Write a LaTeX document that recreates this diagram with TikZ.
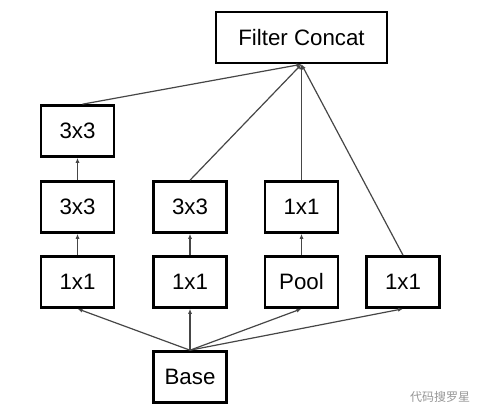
\documentclass[tikz,border=0pt]{standalone}
\usepackage{fontspec}
\setmainfont{Liberation Sans}
\newfontfamily\cjkfont{Noto Sans CJK SC}
\usepackage{tikz}
\usetikzlibrary{arrows.meta, positioning}
\definecolor{lineGray}{RGB}{70,70,70}
\definecolor{markGray}{RGB}{150,150,150}

\begin{document}
\begin{tikzpicture}[
  x=1pt, y=-1pt,
  layer/.style={rectangle, draw=black, line width=2.6pt,
               minimum width=73pt, minimum height=51pt,
               inner sep=0pt, font=\fontsize{22.3}{26}\selectfont},
  arr/.style={-{Latex[length=5pt,width=4pt]}, line width=1.2pt, draw=lineGray},
  every node/.style={font=\fontsize{22.3}{26}\selectfont}
]
  \useasboundingbox (0,0) rectangle (486,419);

  % output
  \node[layer, minimum width=171pt] (cc) at (301.5,37.5) {Filter Concat};

  % branch layers
  \node[layer] (a3) at (77.5,131) {3x3};
  \node[layer] (a2) at (77.5,207) {3x3};
  \node[layer] (a1) at (77.5,282) {1x1};
  \node[layer] (b2) at (190,207)  {3x3};
  \node[layer] (b1) at (190,282)  {1x1};
  \node[layer] (c2) at (301.5,207) {1x1};
  \node[layer] (c1) at (301.5,282) {Pool};
  \node[layer] (d1) at (403,282)  {1x1};

  % input
  \node[layer] (base) at (190,377) {Base};

  \foreach \a/\b in {a1/a2,a2/a3,b1/b2,c1/c2}
    \draw[arr] (\a) -- (\b);

  \foreach \t in {a1,b1,c1,d1}
    \draw[arr] (base.north) -- (\t.south);

  \draw[arr] ([xshift=5pt]a3.north) -- (cc.south);
  \foreach \s in {b2,c2,d1}
    \draw[arr] (\s.north) -- (cc.south);

  % watermark
  \node[text=markGray, font=\cjkfont\fontsize{12}{14}\selectfont] (wm) at (440,397) {代码搜罗星};
\end{tikzpicture}
\end{document}
